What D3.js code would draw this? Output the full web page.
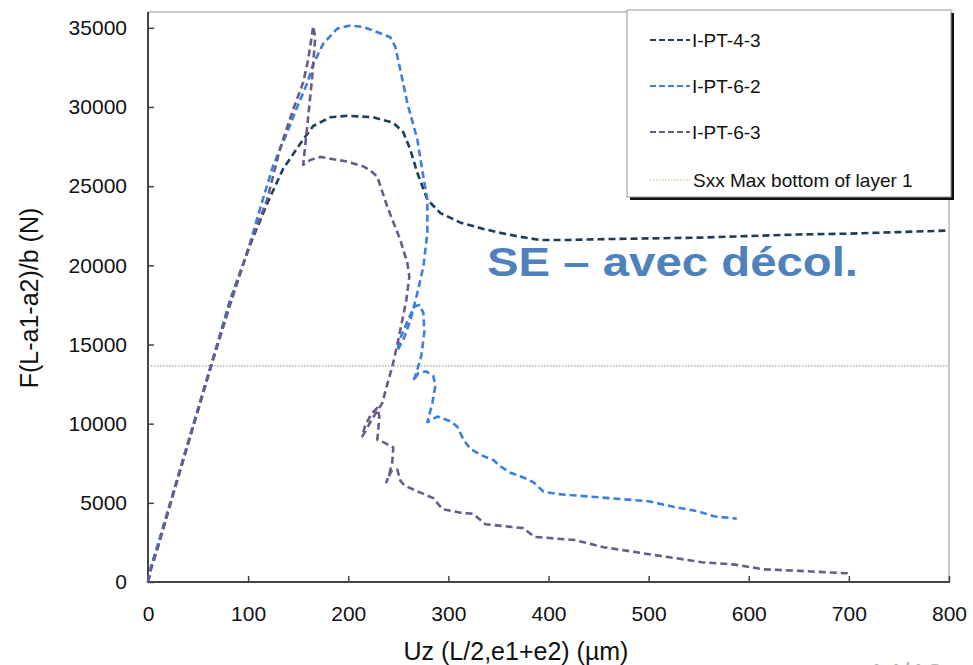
<!DOCTYPE html>
<html>
<head>
<meta charset="utf-8">
<script src="https://d3js.org/d3.v7.min.js"></script>
<style>
  body { margin: 0; background: #fff; }
  svg { display: block; font-family: "Liberation Sans", Arial, Helvetica, sans-serif; }
</style>
</head>
<body>
<svg id="chart"></svg>
<script>
// values: [Uz (µm), F (N)]
const pt43 = [[0,0],[3,900],[10,2300],[30,6600],[60,13000],[82,17800],[102,21300],[119,23900],[135,26100],
  [155,27950],[165,28800],[182,29350],[199,29450],[225,29350],[245,29000],[255,28400],[262,27300],[269,25850],
  [279,24150],[292,23300],[312,22700],[335,22300],[352,22050],[372,21800],[392,21600],[420,21600],[450,21650],
  [500,21700],[550,21750],[600,21850],[650,21950],[700,22000],[750,22100],[800,22200]];

const pt62 = [[0,0],[3,1000],[10,2400],[30,6700],[60,13100],[82,17700],[100,21000],[112,23600],[125,26300],
  [139,28400],[149,30000],[159,31500],[165,32700],[175,34000],[189,34950],[202,35150],[215,35050],[222,34900],
  [242,34400],[247,33800],[252,32350],[259,30250],[269,27950],[275,25600],[279,24150],[279,22050],[275,19900],
  [269,18250],[262,16500],[255,15300],[249,14600],[252,15400],[260,16600],[266,17400],[271,17500],[275,17000],
  [276,15800],[273,14300],[268,13200],[265,12700],[270,13200],[278,13300],[285,13000],[287,12400],[284,11300],
  [279,10100],[289,10450],[302,10150],[309,9800],[315,9000],[322,8400],[335,7950],[345,7700],[352,7300],
  [362,6900],[375,6600],[385,6300],[395,5700],[410,5550],[450,5350],[500,5100],[525,4750],[550,4450],
  [565,4150],[588,4000]];

const pt63 = [[0,0],[3,800],[10,2200],[30,6600],[60,13000],[82,17500],[100,21000],[119,24150],[132,27400],
  [145,29850],[155,31550],[160,33000],[165,35100],[167,34400],[164,31900],[159,28750],[155,26350],[162,26650],
  [172,26850],[199,26550],[215,26250],[222,26000],[229,25600],[239,23700],[252,21600],[259,20150],[261,19300],
  [258,17800],[254,16550],[249,15000],[244,13600],[239,12500],[234,11300],[229,10800],[222,10100],[216,9400],
  [214,9200],[217,9900],[223,10600],[229,11000],[231,10500],[230,9600],[229,9000],[236,8800],[245,8500],
  [244,7600],[241,6800],[238,6300],[243,7000],[249,7100],[252,6400],[256,6100],[270,5700],[285,5300],
  [294,4600],[310,4400],[325,4300],[337,3650],[360,3500],[375,3400],[386,2850],[426,2650],[455,2200],
  [506,1700],[528,1500],[553,1250],[586,1100],[615,800],[651,700],[698,550],[700,350]];

const seriesNames = ["I-PT-4-3", "I-PT-6-2", "I-PT-6-3"];
const seriesColors = ["#1f3d58", "#3c7fe0", "#6a5b88"];
const sxxMax = 13650;
const sxxLabel = "Sxx Max bottom of layer 1";
const xTicks = [0, 100, 200, 300, 400, 500, 600, 700, 800];
const yTicks = [0, 5000, 10000, 15000, 20000, 25000, 30000, 35000];

const width = 973, height = 665;
const svg = d3.select("#chart").attr("width", width).attr("height", height);

const x = d3.scaleLinear().domain([0, 800]).range([148, 949]);
const y = d3.scaleLinear().domain([0, 36000]).range([582, 12]);

// frame: light top/right, dark left/bottom
svg.append("line").attr("x1", 148).attr("x2", 949).attr("y1", 12).attr("y2", 12)
  .attr("stroke", "#b5b5b5").attr("stroke-width", 1.5);
svg.append("line").attr("x1", 949).attr("x2", 949).attr("y1", 12).attr("y2", 582)
  .attr("stroke", "#b5b5b5").attr("stroke-width", 1.5);

const xAxis = svg.append("g").attr("transform", "translate(0,582)")
  .call(d3.axisBottom(x).tickValues(xTicks).tickSize(-6).tickPadding(24).tickFormat(d3.format("d")));
const yAxis = svg.append("g").attr("transform", "translate(148,0)")
  .call(d3.axisLeft(y).tickValues(yTicks).tickSize(-6).tickPadding(21).tickFormat(d3.format("d")));

[xAxis, yAxis].forEach(g => {
  g.select(".domain").remove();
  g.selectAll(".tick line").attr("stroke", "#444").attr("stroke-width", 1.5);
  g.selectAll(".tick text").attr("fill", "#111").style("font-size", "21px")
    .style("font-family", "'Liberation Sans', Arial, sans-serif");
});
svg.append("line").attr("x1", 148).attr("x2", 148).attr("y1", 12).attr("y2", 583)
  .attr("stroke", "#444").attr("stroke-width", 2);
svg.append("line").attr("x1", 147).attr("x2", 950).attr("y1", 582).attr("y2", 582)
  .attr("stroke", "#444").attr("stroke-width", 2);

// reference line
svg.append("line").attr("x1", x(0)).attr("x2", x(800)).attr("y1", y(sxxMax)).attr("y2", y(sxxMax))
  .attr("stroke", "#8c8c7a").attr("stroke-width", 1).attr("stroke-dasharray", "1.5,1.5");

// curves
const line = d3.line().x(d => x(d[0])).y(d => y(d[1]));
[pt43, pt62, pt63].forEach((data, i) => {
  svg.append("path").datum(data).attr("d", line)
    .attr("fill", "none").attr("stroke", seriesColors[i]).attr("stroke-width", 2.6)
    .attr("stroke-dasharray", "7,4").attr("stroke-linejoin", "round");
});

// axis titles
svg.append("text").attr("x", 516).attr("y", 660).attr("text-anchor", "middle")
  .style("font-size", "25px").attr("fill", "#111").text("Uz (L/2,e1+e2) (µm)");
svg.append("text").attr("transform", "translate(38,298) rotate(-90)").attr("text-anchor", "middle")
  .style("font-size", "25px").attr("fill", "#111").text("F(L-a1-a2)/b (N)");

// legend
const lg = svg.append("g").attr("transform", "translate(627,10)");
lg.append("rect").attr("x", 3).attr("y", 3).attr("width", 324).attr("height", 187).attr("fill", "#111");
lg.append("rect").attr("width", 324).attr("height", 187).attr("fill", "#fff")
  .attr("stroke", "#999").attr("stroke-width", 1);
const rowsY = [30, 76, 122, 170];
seriesNames.forEach((name, i) => {
  lg.append("line").attr("x1", 23).attr("x2", 63).attr("y1", rowsY[i]).attr("y2", rowsY[i])
    .attr("stroke", seriesColors[i]).attr("stroke-width", 2.2).attr("stroke-dasharray", "6,3");
  lg.append("text").attr("x", 65).attr("y", rowsY[i] + 7).style("font-size", "19px")
    .attr("fill", "#111").text(name);
});
lg.append("line").attr("x1", 23).attr("x2", 63).attr("y1", rowsY[3]).attr("y2", rowsY[3])
  .attr("stroke", "#b8b88a").attr("stroke-width", 1).attr("stroke-dasharray", "1.5,1.5");
lg.append("text").attr("x", 66).attr("y", rowsY[3] + 7).style("font-size", "19px")
  .attr("fill", "#111").text(sxxLabel);

// annotation
svg.append("text").attr("x", 487).attr("y", 276).style("font-size", "40px").style("font-weight", "bold")
  .attr("fill", "#4f81bd").attr("textLength", 371).attr("lengthAdjust", "spacingAndGlyphs")
  .text("SE – avec décol.");

// page number, cut by the bottom edge
svg.append("text").attr("x", 868).attr("y", 684).style("font-size", "30px")
  .attr("fill", "#b8b8b8").text("14/18");
</script>
</body>
</html>
